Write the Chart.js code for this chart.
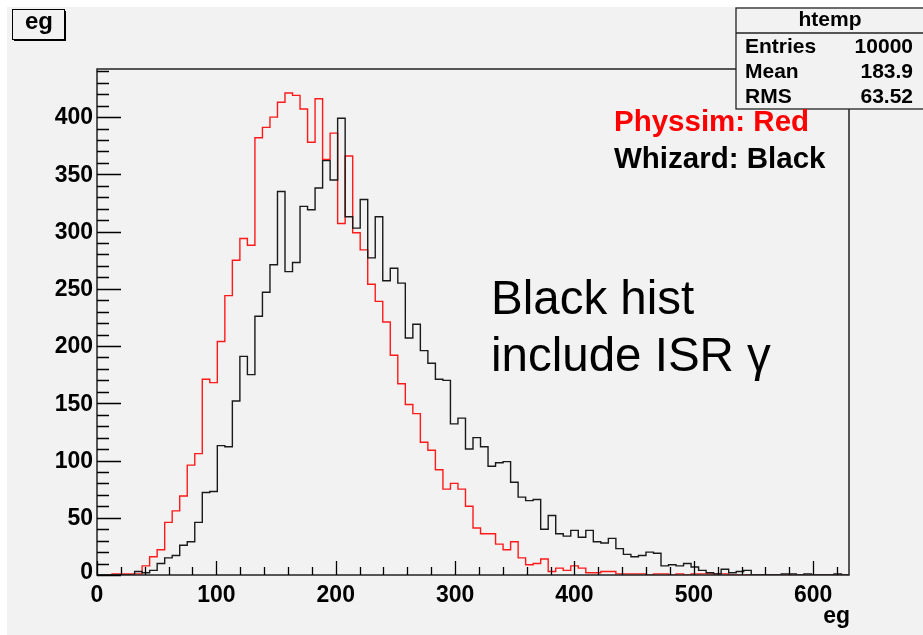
<!DOCTYPE html>
<html>
<head>
<meta charset="utf-8">
<script src="https://cdn.jsdelivr.net/npm/chart.js@4"></script>
<style>
  html, body { margin: 0; padding: 0; background: #fff; }
  canvas { display: block; }
</style>
</head>
<body>
<canvas id="histChart" width="923" height="635"></canvas>
<script>
// histogram range (100 bins, like ROOT's htemp)
const histRange = [0, 630];

// Physsim (red) bin contents
const physsimCounts = [
  0, 0, 1, 1, 1, 1, 8, 16, 22, 46,
  56, 69, 96, 106, 171, 168, 204, 244, 275, 294,
  288, 382, 391, 400, 413, 421, 419, 407, 378, 416,
  363, 386, 307, 366, 299, 284, 254, 239, 221, 192,
  167, 149, 141, 116, 109, 92, 75, 80, 75, 60,
  41, 36, 36, 27, 22, 29, 15, 9, 10, 14,
  3, 6, 4, 8, 6, 2, 2, 3, 3, 1,
  1, 1, 1, 0, 1, 1, 0, 1, 0, 1,
  1, 1, 1, 1, 0, 0, 0, 0, 0, 0,
  0, 0, 0, 0, 0, 0, 0, 0, 0, 0
];

// Whizard (black) bin contents
const whizardCounts = [
  0, 0, 0, 0, 0, 3, 2, 4, 10, 15,
  17, 26, 29, 46, 72, 73, 113, 112, 152, 191,
  175, 226, 247, 271, 335, 265, 273, 322, 319, 338,
  362, 345, 399, 313, 303, 328, 277, 313, 257, 268,
  255, 207, 219, 196, 185, 171, 170, 132, 137, 110,
  120, 112, 95, 98, 99, 81, 68, 65, 66, 40,
  52, 36, 34, 39, 33, 39, 29, 28, 32, 23,
  18, 16, 17, 20, 19, 8, 9, 8, 10, 7,
  4, 2, 1, 5, 2, 3, 4, 0, 0, 0,
  0, 1, 1, 0, 1, 0, 0, 0, 1, 0
];

const xTicks = [0, 100, 200, 300, 400, 500, 600];
const yTicks = [0, 50, 100, 150, 200, 250, 300, 350, 400];
const statsRows = [['Entries', '10000'], ['Mean', '183.9'], ['RMS', '63.52']];

const FONT = '"Liberation Sans", Arial, Helvetica, sans-serif';

// bin left edges + closing edge; Chart.js 'before' stepping keeps each value on its own bin
function toSteps(counts) {
  const w = (histRange[1] - histRange[0]) / counts.length;
  const pts = counts.map((c, i) => ({ x: histRange[0] + i * w, y: c }));
  pts.push({ x: histRange[1], y: counts[counts.length - 1] });
  return pts;
}

const rootStyle = {
  id: 'rootStyle',
  beforeDraw(chart) {
    const ctx = chart.ctx;
    ctx.save();
    ctx.fillStyle = '#ffffff';
    ctx.fillRect(0, 0, chart.width, chart.height);
    ctx.fillStyle = '#f2f2f2';
    ctx.fillRect(7, 7, chart.width - 7, chart.height - 7);
    ctx.restore();
  },
  afterDraw(chart) {
    const ctx = chart.ctx, a = chart.chartArea;
    const xs = chart.scales.x, ys = chart.scales.y;
    ctx.save();

    // frame
    ctx.strokeStyle = '#222';
    ctx.lineWidth = 1.5;
    ctx.strokeRect(a.left, a.top, a.right - a.left, a.bottom - a.top);

    // ticks, drawn inward like ROOT
    ctx.strokeStyle = '#000';
    ctx.lineWidth = 1.3;
    ctx.beginPath();
    for (let v = 0; v <= 440; v += 10) {
      const y = Math.round(ys.getPixelForValue(v)) + 0.5;
      const len = v % 50 === 0 ? 24 : 12;
      ctx.moveTo(a.left, y);
      ctx.lineTo(a.left + len, y);
    }
    for (let v = 0; v <= 620; v += 20) {
      const x = Math.round(xs.getPixelForValue(v)) + 0.5;
      const len = v % 100 === 0 ? 14 : 8;
      ctx.moveTo(x, a.bottom);
      ctx.lineTo(x, a.bottom - len);
    }
    ctx.stroke();

    // tick labels
    ctx.fillStyle = '#000';
    ctx.font = 'bold 23px ' + FONT;
    ctx.textAlign = 'right';
    ctx.textBaseline = 'middle';
    yTicks.forEach(v => ctx.fillText(String(v), a.left - 4, ys.getPixelForValue(v) + (v === 0 ? -2 : 1)));
    ctx.textAlign = 'center';
    ctx.textBaseline = 'alphabetic';
    xTicks.forEach(v => ctx.fillText(String(v), xs.getPixelForValue(v), a.bottom + 27));

    // axis title
    ctx.textAlign = 'right';
    ctx.fillText('eg', a.right + 1, 623);

    // title box
    ctx.fillStyle = '#000';
    ctx.fillRect(14, 11, 52, 30);
    ctx.fillStyle = '#f2f2f2';
    ctx.fillRect(12, 9, 52, 30);
    ctx.lineWidth = 1;
    ctx.strokeRect(12.5, 9.5, 52, 30);
    ctx.fillStyle = '#000';
    ctx.font = 'bold 24px ' + FONT;
    ctx.textAlign = 'center';
    ctx.fillText('eg', 39, 29);

    // stats box
    ctx.fillStyle = '#f2f2f2';
    ctx.fillRect(736, 8, 200, 101);
    ctx.strokeStyle = '#222';
    ctx.lineWidth = 1.3;
    ctx.strokeRect(736, 8, 200, 101);
    ctx.beginPath();
    ctx.moveTo(736, 33);
    ctx.lineTo(923, 33);
    ctx.stroke();
    ctx.fillStyle = '#000';
    ctx.font = 'bold 21px ' + FONT;
    ctx.textAlign = 'center';
    ctx.fillText('htemp', 830, 26);
    statsRows.forEach((r, i) => {
      const y = 53 + i * 25;
      ctx.textAlign = 'left';
      ctx.fillText(r[0], 745, y);
      ctx.textAlign = 'right';
      ctx.fillText(r[1], 913, y);
    });

    // legend texts
    ctx.font = 'bold 29.5px ' + FONT;
    ctx.textAlign = 'left';
    ctx.fillStyle = '#ff0000';
    ctx.fillText('Physsim: Red', 614, 131);
    ctx.fillStyle = '#000';
    ctx.fillText('Whizard: Black', 614, 168);

    // annotation
    ctx.font = '47.5px ' + FONT;
    ctx.fillText('Black hist', 491, 314);
    ctx.fillText('include ISR \u03b3', 491, 371);

    ctx.restore();
  }
};

new Chart(document.getElementById('histChart'), {
  type: 'line',
  data: {
    datasets: [
      {
        label: 'Whizard',
        data: toSteps(whizardCounts),
        borderColor: '#1a1a1a',
        borderWidth: 1.4,
        stepped: 'before',
        pointRadius: 0,
        fill: false,
        order: 0
      },
      {
        label: 'Physsim',
        data: toSteps(physsimCounts),
        borderColor: '#ff1a1a',
        borderWidth: 1.4,
        stepped: 'before',
        pointRadius: 0,
        fill: false,
        order: 1
      }
    ]
  },
  options: {
    responsive: false,
    animation: false,
    layout: { padding: { left: 97, top: 69, right: 74, bottom: 60 } },
    scales: {
      x: { type: 'linear', min: histRange[0], max: histRange[1], display: false },
      y: { min: 0, max: 442, display: false }
    },
    plugins: { legend: { display: false }, tooltip: { enabled: false } }
  },
  plugins: [rootStyle]
});
</script>
</body>
</html>
